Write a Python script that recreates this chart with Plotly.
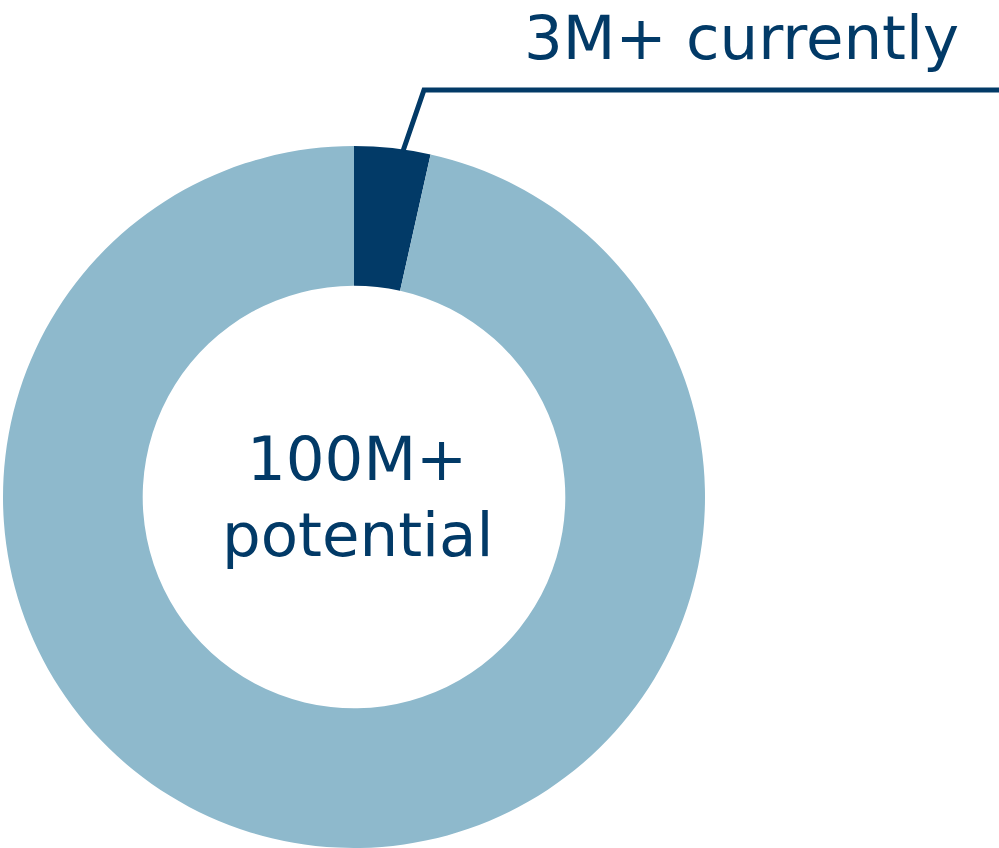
import plotly.graph_objects as go

# Audience reach: current users vs. total potential
segments = ["3M+ currently", "Remaining potential"]
values = [3.5, 96.5]
colors = ["#023a67", "#8eb9cc"]
center_lines = ["100M+", "potential"]
callout_text = "3M+ currently"

W, H = 999, 848
NAVY = "#023a67"
FONT = "DejaVu Sans"


def px(x):
    return x / W


def py(y):
    return 1 - y / H


fig = go.Figure(
    go.Pie(
        labels=segments,
        values=values,
        hole=0.602,
        sort=False,
        direction="clockwise",
        rotation=0,
        marker=dict(colors=colors, line=dict(width=0)),
        textinfo="none",
        hoverinfo="label",
        domain=dict(x=[px(3), px(705)], y=[0, 702 / H]),
        showlegend=False,
    )
)

# leader line from the small slice to the callout
fig.add_shape(
    type="path",
    path=f"M {px(403)} {py(151)} L {px(424)} {py(90)} L {px(1005)} {py(90)}",
    xref="paper", yref="paper",
    line=dict(color=NAVY, width=5),
)

fig.add_annotation(
    text=callout_text, xref="paper", yref="paper",
    x=px(522), y=1, xanchor="left", yanchor="top",
    showarrow=False, font=dict(family=FONT, size=61, color=NAVY),
)

for i, line in enumerate(center_lines):
    fig.add_annotation(
        text=line, xref="paper", yref="paper",
        x=px(357), y=py(458 + 76 * i), xanchor="center", yanchor="middle",
        showarrow=False, font=dict(family=FONT, size=61, color=NAVY),
    )

fig.update_layout(
    width=W, height=H,
    margin=dict(l=0, r=0, t=0, b=0),
    paper_bgcolor="white", plot_bgcolor="white",
)

fig.write_html("out.html")
